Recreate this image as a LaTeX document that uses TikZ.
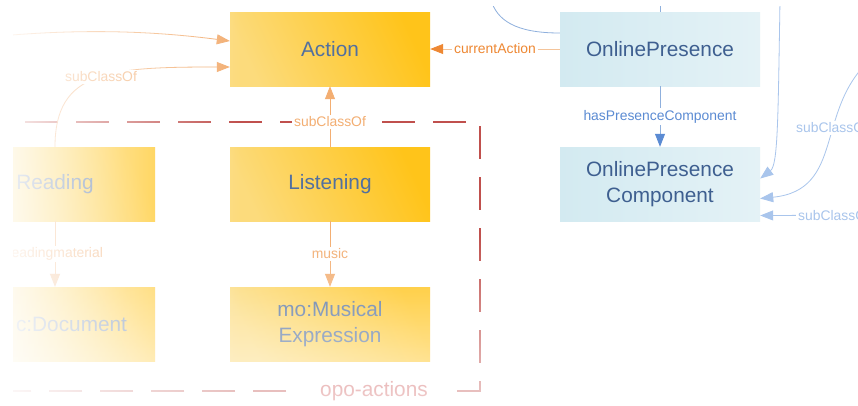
\documentclass[tikz,border=0pt]{standalone}
\usepackage{fontspec}
\setmainfont{Liberation Sans}
\usetikzlibrary{arrows.meta,fadings}
\definecolor{ylight}{HTML}{FCDB7C}
\definecolor{ydark}{HTML}{FFC41A}
\definecolor{ytext}{HTML}{52709F}
\definecolor{bleft}{HTML}{D3EAF1}
\definecolor{bright}{HTML}{E4F2F6}
\definecolor{btext}{HTML}{3E5F90}
\definecolor{orangeD}{HTML}{EE8833}
\definecolor{orangeL}{HTML}{F4C49A}
\definecolor{peach}{HTML}{F3AE72}
\definecolor{blueD}{HTML}{5B8BD3}
\definecolor{blueLine}{HTML}{8FB0DD}
\definecolor{blueL}{HTML}{A9C5EC}
\definecolor{pkgred}{HTML}{C0504D}
\definecolor{pkgtext}{HTML}{CF5A5A}
\tikzfading[name=fadeleft, left color=transparent!8, right color=transparent!100]
\tikzfading[name=fadebottom, top color=transparent!100, bottom color=transparent!30]
\begin{document}
\begin{tikzpicture}[x=1pt,y=-1pt,
  box/.style={minimum width=200pt, minimum height=74pt, inner sep=0pt,
    font=\fontsize{20.8}{25.5}\selectfont, align=center},
  ybox/.style={box, left color=ylight, right color=ydark, shading angle=115, text=ytext},
  bbox/.style={box, left color=bleft, right color=bright, text=btext},
  lab/.style={fill=white, inner sep=2pt, font=\fontsize{13.9}{16}\selectfont},
  tip/.style={-{Triangle[length=13pt,width=10pt,color=#1]}},
  pkg/.style={draw=pkgred, line width=1.8pt, dash pattern=on 33pt off 18pt}
]
\useasboundingbox (0,0) rectangle (858,405);
\fill[white] (0,0) rectangle (858,405);
\begin{scope}
\clip (13,6) rectangle (858,405);
% package frame
\draw[pkg] (-26,122) -- (480,122) -- (480,391) -- (-26,391);
\node[fill=white, inner ysep=2pt, inner xsep=18pt, text=pkgtext,
  font=\fontsize{20.8}{24}\selectfont] (pkglabel) at (374,391) {opo-actions};
% nodes
\node[ybox] (action) at (330,49) {Action};
\node[ybox] (listening) at (330,184) {Listening};
\node[ybox] (musical) at (330,324) {mo:Musical\\Expression};
\node[ybox] (reading) at (55,184) {Reading};
\node[ybox] (document) at (55,324) {\makebox[144pt][r]{c:Document}};
\node[bbox] (op) at (660,49) {OnlinePresence};
\node[bbox] (opc) at (660,184) {OnlinePresence\\Component};
% free ends
\coordinate (tl) at (0,36);
\coordinate (topc) at (491,0);
\coordinate (toptick) at (660,0);
\coordinate (ra) at (780,0);
\coordinate (rb) at (870,60);
\coordinate (rc) at (908,215);
% orange edges
\draw[orangeL, line width=0.8pt, tip=orangeD] (op) -- node[lab, text=orangeD]{currentAction} (action);
\draw[peach, line width=0.8pt, tip=peach] (listening) -- node[lab, text=peach, pos=0.41]{subClassOf} (action);
\draw[peach, line width=0.8pt, tip=peach] (listening) -- node[lab, text=peach]{music} (musical);
\draw[peach, line width=0.8pt, tip=peach] (reading) -- node[lab, text=peach]{readingmaterial} (document);
\draw[peach, line width=0.8pt, tip=peach] (reading.north) .. controls (55,70) and (110,67) .. node[lab, text=peach, pos=0.52]{subClassOf} ([yshift=-18pt]action.west);
\draw[peach, line width=0.8pt, tip=peach] (tl) .. controls (90,28) and (160,32) .. ([yshift=8pt]action.west);
% blue edges
\draw[blueLine, line width=0.8pt] ([yshift=16pt]op.west) .. controls (515,33) and (497,20) .. (topc);
\draw[blueLine, line width=0.8pt] (op.north) -- (toptick);
\draw[blueLine, line width=0.8pt, tip=blueD] (op) -- node[lab, text=blueD]{hasPresenceComponent} (opc);
\draw[blueL, line width=0.8pt, tip=blueL] (ra) .. controls (778,120) and (778,165) .. ([yshift=5.5pt]opc.east);
\draw[blueL, line width=0.8pt, tip=blueL] (rb) .. controls (815,110) and (845,190) .. node[lab, text=blueL, pos=0.4]{subClassOf} ([yshift=-14.5pt]opc.east);
\draw[blueL, line width=0.8pt, tip=blueL] (rc) -- node[lab, text=blueL]{subClassOf} ([yshift=-31.5pt]opc.east);
% fades
\fill[white, path fading=fadeleft] (0,0) rectangle (240,405);
\fill[white, path fading=fadebottom] (0,235) rectangle (560,405);
\end{scope}
\end{tikzpicture}
\end{document}
